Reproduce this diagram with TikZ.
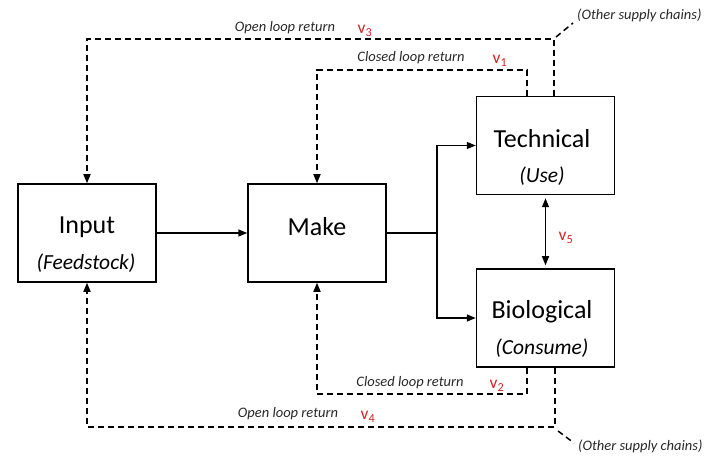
\documentclass[tikz,border=0pt]{standalone}
\usepackage{fontspec}
\setmainfont{Carlito}
\usetikzlibrary{arrows.meta}
\definecolor{vred}{RGB}{215,35,35}
\definecolor{lbl}{RGB}{40,40,40}
\begin{document}
\begin{tikzpicture}[x=1pt,y=-1pt,
  box/.style={draw,line width=1.5pt,minimum width=138pt,minimum height=98pt,inner sep=0pt},
  title/.style={font=\fontsize{26}{26}\selectfont,inner sep=0pt},
  sub/.style={font=\fontsize{21.5}{21.5}\selectfont\itshape,inner sep=0pt},
  flow/.style={line width=1.5pt,-{Triangle[length=9pt,width=7pt]}},
  both/.style={line width=1.5pt,{Triangle[length=9pt,width=7pt]}-{Triangle[length=9pt,width=7pt]}},
  ret/.style={line width=1.5pt,dash pattern=on 6pt off 4pt},
  retarrow/.style={ret,-{Triangle[length=9pt,width=7pt]}},
  loopname/.style={font=\fontsize{14.5}{14.5}\selectfont\itshape,text=lbl,inner sep=0pt},
  vlabel/.style={font=\fontsize{17.5}{17.5}\selectfont,text=vred,inner sep=0pt},
  other/.style={font=\fontsize{14.5}{14.5}\selectfont\itshape,text=lbl,inner sep=0pt,anchor=west}]
\useasboundingbox (0,0) rectangle (715,457);

% stages
\node[box] (input) at (87,233) {};
\node[box] (make)  at (317,233) {};
\node[box] (tech)  at (545.5,145.5) {};
\node[box] (bio)   at (545.5,318) {};

\node[title] (inputT) at (87,227) {Input};
\node[sub]   (inputS) at (86,263) {(Feedstock)};
\node[title] (makeT)  at (317,227) {Make};
\node[title] (techT)  at (542,139) {Technical};
\node[sub]   (techS)  at (542,176) {(Use)};
\node[title] (bioT)   at (542,312) {Biological};
\node[sub]   (bioS)   at (542,348) {(Consume)};

% forward flow
\coordinate (br) at (437,233);
\draw[flow] (input.east) -- (make.west);
\draw[line width=1.5pt] (make.east) -- (br);
\draw[flow] (br) |- (tech.west);
\draw[flow] (br) |- (bio.west);
\draw[both,shorten <=3pt,shorten >=3pt] (tech.south) -- (bio.north);
\node[vlabel] (v5) at (566,238) {v\textsubscript{5}};

% return loops, top
\coordinate (c1) at (527,70);
\coordinate (o3) at (554,39);
\draw[retarrow] (tech.north -| c1) -- (c1) -| (make.north);
\draw[retarrow] (tech.north -| o3) -- (o3) -| (input.north);
\node[other] (otherTop) at (577,15) {(Other supply chains)};
\coordinate (d1a) at (556,37);
\coordinate (d1b) at (573,23);
\draw[ret] (d1a) -- (d1b);

\node[loopname] (openTop) at (285,28) {Open loop return};
\node[vlabel] (v3) at (365,31) {v\textsubscript{3}};
\node[loopname] (closedTop) at (411,58) {Closed loop return};
\node[vlabel] (v1) at (500,61) {v\textsubscript{1}};

% return loops, bottom
\coordinate (c2) at (527,394);
\coordinate (o4) at (555,427);
\draw[retarrow] (bio.south -| c2) -- (c2) -| (make.south);
\draw[retarrow] (bio.south -| o4) -- (o4) -| (input.south);
\node[other] (otherBot) at (578,446) {(Other supply chains)};
\coordinate (d2a) at (558,431);
\coordinate (d2b) at (574,443);
\draw[ret] (d2a) -- (d2b);

\node[loopname] (closedBot) at (410,383) {Closed loop return};
\node[vlabel] (v2) at (497,386) {v\textsubscript{2}};
\node[loopname] (openBot) at (288,414) {Open loop return};
\node[vlabel] (v4) at (368,417) {v\textsubscript{4}};
\end{tikzpicture}
\end{document}
